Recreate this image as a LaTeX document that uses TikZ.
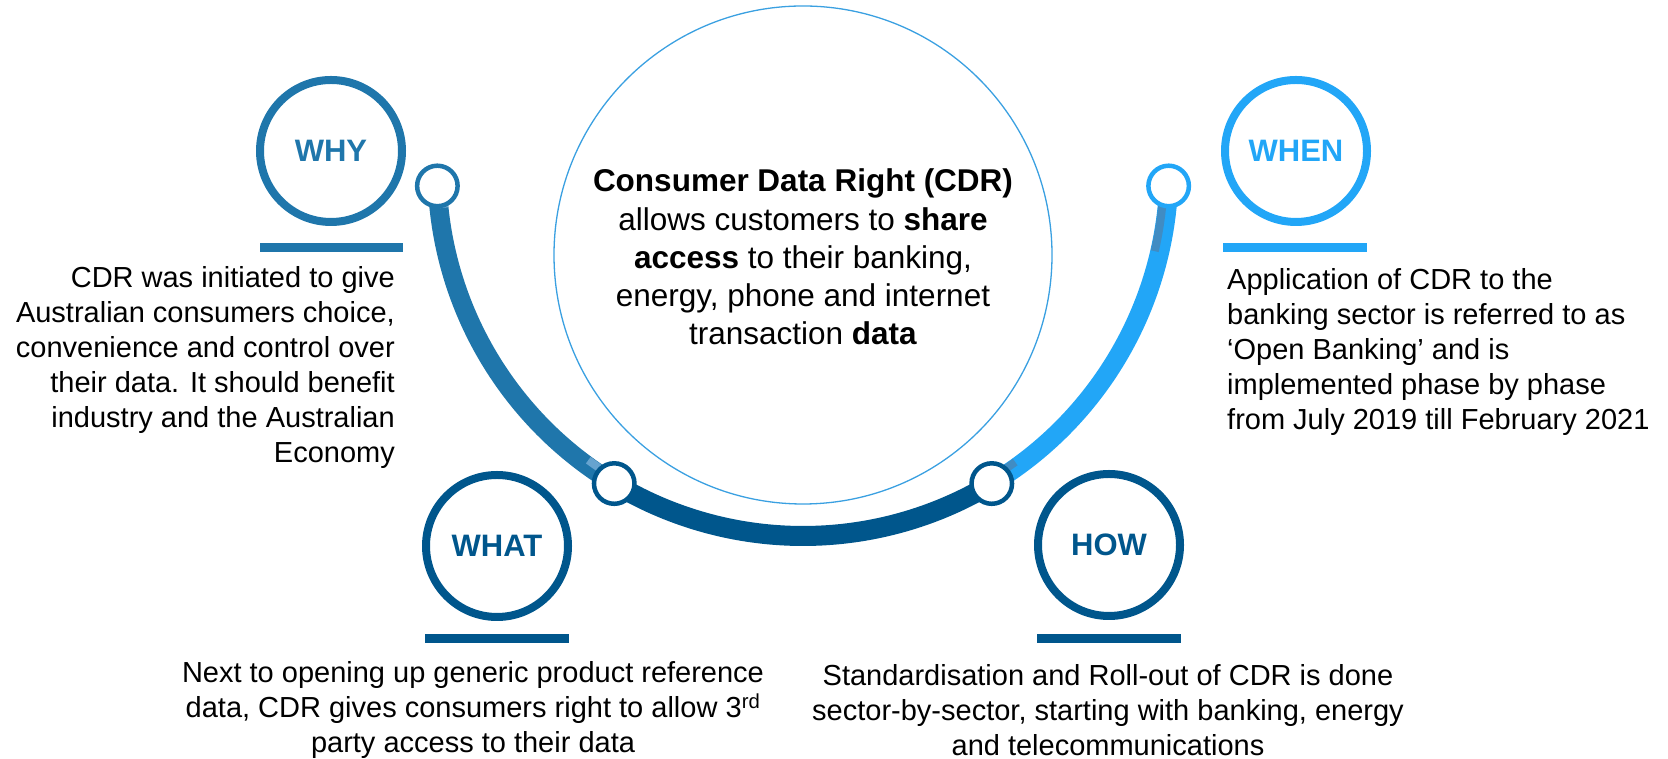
\documentclass[tikz,border=0pt]{standalone}
\usepackage{fontspec}
\setmainfont{Liberation Sans}
\usepackage{tikz}

\definecolor{whyblue}{RGB}{31,118,171}
\definecolor{whatblue}{RGB}{0,86,140}
\definecolor{whenblue}{RGB}{34,166,247}
\definecolor{blendblue}{RGB}{64,140,195}
\definecolor{coreline}{RGB}{58,160,225}

\tikzset{
	labelring/.style={circle, draw=#1, text=#1, line width=8pt, minimum size=142pt, inner sep=0pt, font=\fontsize{31}{31}\selectfont\bfseries},
	joint/.style={circle, draw=#1, fill=white, line width=4.5pt, minimum size=40.5pt, inner sep=0pt},
	bodytext/.style={font=\fontsize{29}{35}\selectfont, inner sep=0pt},
	underbar/.style={draw=#1, line width=9pt}
}

\begin{document}
\begin{tikzpicture}[x=1pt, y=1pt]
		\useasboundingbox (0,0) rectangle (1668,759);
		% centre circle and its text
		\node[circle, draw=coreline, line width=1.3pt, minimum size=498pt, inner sep=0pt] (core) at (803,504) {};
		\node[align=center, anchor=base, inner sep=0pt, font=\fontsize{31.5}{38.3}\selectfont] (coretext) at (803,414)
			{\textbf{Consumer Data Right (CDR)}\\ allows customers to \textbf{share}\\ \textbf{access} to their banking,\\ energy, phone and internet\\ transaction \textbf{data}};
		% the arc
		\coordinate (hub) at (803,589);
		\path (hub) ++(182.5:366pt) coordinate (jwhy);
		\path (hub) ++(238.95:366pt) coordinate (jwhat);
		\path (hub) ++(301.05:366pt) coordinate (jhow);
		\path (hub) ++(357.5:366pt) coordinate (jwhen);
		\draw[whyblue, line width=19pt] (jwhy) arc[start angle=182.5, end angle=238.95, radius=366pt];
		\draw[whatblue, line width=20pt] (jwhat) arc[start angle=238.95, end angle=301.05, radius=366pt];
		\draw[whenblue, line width=19pt] (jhow) arc[start angle=301.05, end angle=357.5, radius=366pt];
		% shading seams at the joints
		\draw[blendblue!70!white, line width=8pt] (hub) ++(183:361pt) arc[start angle=183, end angle=186, radius=361pt];
		\draw[blendblue!80!white, line width=8pt] (hub) ++(233.5:361pt) arc[start angle=233.5, end angle=238, radius=361pt];
		\draw[blendblue, line width=8pt] (hub) ++(302:361pt) arc[start angle=302, end angle=306, radius=361pt];
		\draw[blendblue, line width=8pt] (hub) ++(347:361pt) arc[start angle=347, end angle=357, radius=361pt];
		\node[joint=whyblue] (pwhy) at (jwhy) {};
		\node[joint=whatblue] (pwhat) at (jwhat) {};
		\node[joint=whatblue] (phow) at (jhow) {};
		\node[joint=whenblue] (pwhen) at (jwhen) {};
		% the four questions
		\node[labelring=whyblue] (why) at (331,608) {WHY};
		\node[labelring=whenblue] (when) at (1296,608) {WHEN};
		\node[labelring=whatblue] (what) at (497,213) {WHAT};
		\node[labelring=whatblue] (how) at (1109,214) {HOW};
		\draw[underbar=whyblue] (260,511.5) -- (403,511.5);
		\draw[underbar=whenblue] (1223,511.5) -- (1367,511.5);
		\draw[underbar=whatblue] (425,120) -- (569,120);
		\draw[underbar=whatblue] (1037,120.5) -- (1181,120.5);
		\node[bodytext, align=right, anchor=base east] (whytext) at (395,296)
			{CDR was initiated to give\\ Australian consumers choice,\\ convenience and control over\\ their data. It should benefit\\ industry and the Australian\\ Economy};
		\node[bodytext, align=left, anchor=base west] (whentext) at (1227,329)
			{Application of CDR to the\\ banking sector is referred to as\\ ‘Open Banking’ and is\\ implemented phase by phase\\ from July 2019 till February 2021};
		\node[bodytext, align=center, anchor=base] (whattext) at (473,6)
			{Next to opening up generic product reference\\ data, CDR gives consumers right to allow 3\textsuperscript{rd}\\ party access to their data};
		\node[bodytext, align=center, anchor=base] (howtext) at (1108,3)
			{Standardisation and Roll-out of CDR is done\\ sector-by-sector, starting with banking, energy\\ and telecommunications};
	\end{tikzpicture}
\end{document}
